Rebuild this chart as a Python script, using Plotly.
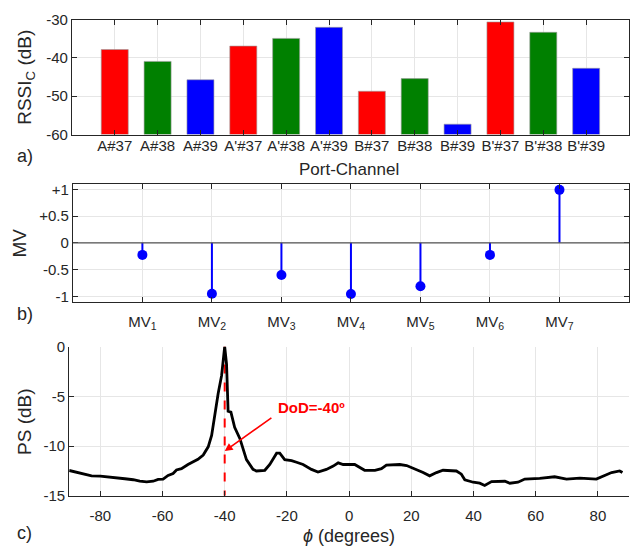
import plotly.graph_objects as go

# ---------------- data ----------------
port_channels = ["A#37", "A#38", "A#39", "A'#37", "A'#38", "A'#39",
                 "B#37", "B#38", "B#39", "B'#37", "B'#38", "B'#39"]
rssi_values = [-37.8, -40.9, -45.7, -36.9, -34.9, -32.0,
               -48.7, -45.4, -57.3, -30.6, -33.3, -42.7]
bar_colors = ["#ff0000", "#008000", "#0000ff"] * 4
rssi_ticks = [-60, -50, -40, -30]

mv_labels = ["MV<sub>1</sub>", "MV<sub>2</sub>", "MV<sub>3</sub>", "MV<sub>4</sub>",
             "MV<sub>5</sub>", "MV<sub>6</sub>", "MV<sub>7</sub>"]
mv_values = [-0.225, -0.95, -0.60, -0.957, -0.81, -0.225, 0.99]
mv_ticks = [-1, -0.5, 0, 0.5, 1]
mv_ticktext = ["-1", "-0.5", "0", "+0.5", "+1"]

phi_deg = [-90, -86, -82.8, -80, -77.5, -75.3, -72.1, -69.4, -67.3, -65.1, -63,
           -61.4, -59.8, -58.2, -56.6, -55.5, -53.9, -51.8, -50.2, -48.6, -46.9,
           -45.3, -44.2, -43.2, -42.1, -41.0, -40.4, -40.0, -39.4, -38.9, -38.0,
           -36.8, -35.1, -33.0, -30.9, -29.8, -27.1, -25.5, -23.3, -22.3, -20.7,
           -18.5, -16.9, -14.8, -12.1, -10.0, -7.3, -5.1, -3.5, -1.9, 1.8, 5.0,
           8.3, 10.4, 12.0, 16.3, 18.5, 21.7, 23.8, 25.9, 28.1, 30.2, 34.5, 36.1,
           37.2, 39.9, 42.0, 43.6, 45.8, 50.1, 51.7, 54.3, 56.5, 61.3, 66.1, 69.9,
           74.2, 79.5, 81.7, 84.4, 87.0, 87.9]
ps_db = [-12.45, -12.76, -12.99, -13.02, -13.08, -13.15, -13.28, -13.38, -13.53,
         -13.6, -13.53, -13.34, -13.31, -12.95, -12.76, -12.4, -12.27, -11.85,
         -11.59, -11.33, -10.9, -10.07, -8.93, -6.66, -4.71, -2.92, -1.14, 0.0,
         -1.79, -6.5, -6.59, -8.12, -9.25, -11.36, -12.34, -12.5, -12.43, -11.85,
         -10.71, -10.71, -11.36, -11.46, -11.62, -11.85, -12.34, -12.6, -12.34,
         -12.01, -11.68, -11.85, -11.85, -12.43, -12.43, -12.27, -11.92, -11.85,
         -11.95, -12.34, -12.66, -12.99, -12.66, -12.43, -12.5, -12.82, -13.38,
         -13.63, -13.73, -13.96, -13.57, -13.53, -13.73, -13.63, -13.31, -13.24,
         -13.08, -13.31, -13.21, -13.31, -12.99, -12.66, -12.5, -12.66]
phi_ticks = [-80, -60, -40, -20, 0, 20, 40, 60, 80]
ps_ticks = [-15, -10, -5, 0]
dod_deg = -40

# ---------------- styling ----------------
AX = "#262626"
GRID = "#e6e6e6"
FONT = "Liberation Sans, Arial, sans-serif"
TICKF = dict(family=FONT, size=15, color=AX)

def hy(vals):
    return [str(v).replace("−", "-") for v in vals]

fig = go.Figure()

# panel a: bars
fig.add_trace(go.Bar(
    x=list(range(1, len(port_channels) + 1)), y=[v - (-60) for v in rssi_values],
    base=-60, width=0.63, marker=dict(color=bar_colors, line=dict(color="#9a9a9a", width=0.6)),
    xaxis="x", yaxis="y", showlegend=False))

# panel b: stems
sx, sy = [], []
for i, v in enumerate(mv_values, start=1):
    sx += [i, i, None]
    sy += [0, v, None]
fig.add_trace(go.Scatter(x=sx, y=sy, mode="lines", line=dict(color="#0000ff", width=2),
                         xaxis="x2", yaxis="y2", showlegend=False))
fig.add_trace(go.Scatter(x=list(range(1, len(mv_values) + 1)), y=mv_values, mode="markers",
                         marker=dict(color="#0000ff", size=10),
                         xaxis="x2", yaxis="y2", showlegend=False))

# panel c: spectrum
fig.add_trace(go.Scatter(x=[dod_deg, dod_deg], y=[0, -15], mode="lines",
                         line=dict(color="#ff0000", width=2, dash="dash"),
                         xaxis="x3", yaxis="y3", showlegend=False))
fig.add_trace(go.Scatter(x=phi_deg, y=ps_db, mode="lines",
                         line=dict(color="#000000", width=2.8),
                         xaxis="x3", yaxis="y3", showlegend=False))

W, H = 630, 553
def yd(top, bottom):
    return [1 - bottom / H, 1 - top / H]

common = dict(showline=True, linecolor=AX, linewidth=1, ticks="inside", ticklen=5,
              tickcolor=AX, tickfont=TICKF, gridcolor=GRID, gridwidth=1, zeroline=False)

fig.update_layout(
    width=W, height=H, margin=dict(l=0, r=0, t=0, b=0),
    paper_bgcolor="white", plot_bgcolor="white",
    font=dict(family=FONT, color=AX),
    xaxis=dict(domain=[72 / W, 1], range=[0, 13], tickmode="array",
               tickvals=list(range(1, 13)), ticktext=port_channels, mirror="ticks",
               anchor="y", showgrid=True, ticklabelstandoff=-3, **common),
    yaxis=dict(domain=yd(11, 129.5), range=[-60, -30], tickmode="array",
               tickvals=rssi_ticks, ticktext=hy(rssi_ticks),
               mirror="ticks", anchor="x", showgrid=True, **common),
    xaxis2=dict(domain=[73 / W, 1], range=[0, 8], tickmode="array",
                tickvals=list(range(1, 8)), ticktext=mv_labels, mirror="ticks",
                anchor="y2", showgrid=True, ticklabelstandoff=6, **common),
    yaxis2=dict(domain=yd(180.5, 302), range=[-1.1, 1.1], tickmode="array",
                tickvals=mv_ticks, ticktext=mv_ticktext,
                mirror="ticks", anchor="x2", showgrid=True, **common),
    xaxis3=dict(domain=[69.3 / W, 1], range=[-90, 90], tickmode="array",
                tickvals=phi_ticks, ticktext=hy(phi_ticks),
                anchor="y3", showgrid=True, ticklabelstandoff=6, **common),
    yaxis3=dict(domain=yd(348.3, 502.3), range=[-15, 0], tickmode="array",
                tickvals=ps_ticks, ticktext=hy(ps_ticks),
                anchor="x3", showgrid=True, **common),
)

# baseline of the stem plot
fig.add_shape(type="line", xref="x2 domain", yref="y2", x0=0, x1=1, y0=0, y1=0,
              line=dict(color="#555555", width=1.2))

ann = []
def txt(x, y, s, size=18, angle=0, color=AX, xanchor="center"):
    ann.append(dict(x=x / W, y=1 - y / H, xref="paper", yref="paper", text=s,
                    showarrow=False, textangle=angle, xanchor=xanchor, yanchor="middle",
                    font=dict(family=FONT, size=size, color=color)))

txt(26, 70, "RSSI<sub>C</sub> (dB)", size=19, angle=-90)
txt(20, 241, "MV", size=19, angle=-90)
txt(25, 425, "PS (dB)", size=19, angle=-90)
txt(350, 166, "Port-Channel", size=17)
txt(350, 544, "<i>ϕ</i> (degrees)", size=18)
txt(25, 152, "a)", size=18)
txt(25, 315, "b)", size=18)
txt(25, 541, "c)", size=18)
fig.update_layout(annotations=ann)

fig.add_annotation(x=-40, y=-10.5, ax=-24.5, ay=-7.05, xref="x3", yref="y3",
                   axref="x3", ayref="y3", showarrow=True, arrowhead=2, arrowsize=1,
                   arrowwidth=1.6, arrowcolor="#ff0000", text="")
fig.add_annotation(x=-23.5, y=-6.1, xref="x3", yref="y3", text="<b>DoD=-40º</b>",
                   showarrow=False, xanchor="left", yanchor="middle",
                   font=dict(family=FONT, size=15, color="#ff0000"))

fig.write_html("out.html")
